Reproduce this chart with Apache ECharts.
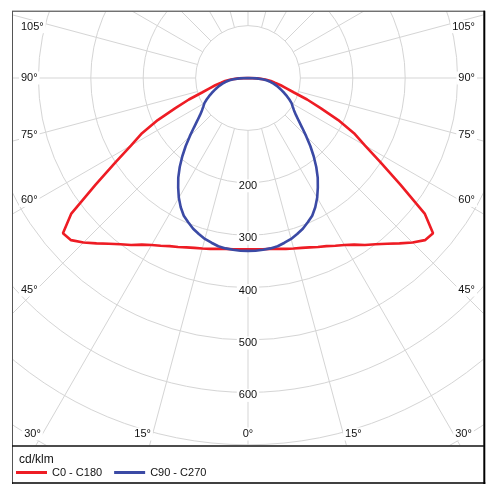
<!DOCTYPE html>
<html><head><meta charset="utf-8">
<script src="https://cdn.jsdelivr.net/npm/echarts@6/dist/echarts.min.js"></script>
<style>html,body{margin:0;padding:0;background:#fff}#c{width:500px;height:492px}</style>
</head><body><div id="c"></div>
<script>
// ---- data ----
const gammaAngles = [0,2.5,5,7.5,10,12.5,15,17.5,20,22.5,25,27.5,30,32.5,35,37.5,40,42.5,45,47.5,50,52.5,55,57.5,60,62.5,65,67.5,70,72.5,75,77.5,80,82.5,85,87.5,90];
const c0c180  = [327,327,328,329,331,334,337,340,344,349,354,361,368,377,389,400,413,428,444,458,461,425,355,300,258,228,190,150,120,92,76,64,52,44,33,18,0];
const c90c270 = [330,330,329,328,326,322,318,312,306,298,290,278,264,248,232,214,195,176,157,140,126,115,107,101,96,89,82,75,68,62,56,50,44,37,28,16,0];
const seriesNames = ['C0 - C180', 'C90 - C270'];
const radiusTickLabels = [200, 300, 400, 500, 600];
const sideAngleLabels = [105, 90, 75, 60, 45];
const bottomAngleLabels = [-30, -15, 0, 15, 30];
const unitLabel = 'cd/klm';

// ---- layout ----
const CX = 248, CY = 78, PX_PER_100 = 52.4, RMAX = 900;
const ROUT = PX_PER_100 * RMAX / 100;
const BOX = {x1: 13, y1: 11.7, x2: 483.3, y2: 445.3};
const FONT = '"Liberation Sans", Arial, sans-serif';
const GRID = '#d5d5d5';

function loop(vals) {
  const pts = [];
  for (let i = gammaAngles.length - 1; i >= 0; i--) pts.push([vals[i], -gammaAngles[i]]);
  for (let i = 1; i < gammaAngles.length; i++) pts.push([vals[i], gammaAngles[i]]);
  return pts;
}

const chart = echarts.init(document.getElementById('c'), null, {renderer: 'canvas'});
const hidden = {axisLine: {show: false}, axisTick: {show: false}, axisLabel: {show: false}};
chart.setOption({
  animation: false,
  backgroundColor: '#fff',
  title: {text: unitLabel, left: 19, top: 454, padding: 0, z: 20,
    textStyle: {fontSize: 12, fontWeight: 'normal', color: '#111', fontFamily: FONT}},
  legend: {left: 11, top: 462, icon: 'rect', itemWidth: 31, itemHeight: 3, itemGap: 12, z: 20,
    data: seriesNames, textStyle: {fontSize: 11, color: '#111', fontFamily: FONT}},
  polar: [
    {center: [CX, CY], radius: [PX_PER_100, ROUT]},
    {center: [CX, CY], radius: [0, ROUT]}
  ],
  angleAxis: [
    Object.assign({polarIndex: 0, type: 'value', min: 0, max: 360, interval: 15, startAngle: 270,
      splitLine: {show: true, lineStyle: {color: GRID, width: 1}}}, hidden),
    Object.assign({polarIndex: 1, type: 'value', min: -180, max: 180, startAngle: 90, clockwise: false,
      splitLine: {show: false}}, hidden)
  ],
  radiusAxis: [
    Object.assign({polarIndex: 0, type: 'value', min: 100, max: RMAX, interval: 100,
      splitLine: {show: true, lineStyle: {color: GRID, width: 1}}}, hidden),
    Object.assign({polarIndex: 1, type: 'value', min: 0, max: RMAX, splitLine: {show: false}}, hidden)
  ],
  series: [
    {type: 'line', name: seriesNames[0], coordinateSystem: 'polar', polarIndex: 1, data: loop(c0c180),
      symbol: 'none', z: 3, color: '#ee1c24', lineStyle: {color: '#ee1c24', width: 2.6}},
    {type: 'line', name: seriesNames[1], coordinateSystem: 'polar', polarIndex: 1, data: loop(c90c270),
      symbol: 'none', z: 4, color: '#3b4aa5', lineStyle: {color: '#3b4aa5', width: 2.6}}
  ]
});

function px(r, a) { return chart.convertToPixel({seriesIndex: 0}, [r, a]); }
function txt(text, x, y, align) {
  return {type: 'text', z: 6, silent: true, style: {text: text, x: x, y: y,
    align: align, verticalAlign: 'middle', textAlign: align, textVerticalAlign: 'middle',
    fill: '#111', font: '11px ' + FONT, backgroundColor: '#fff', padding: [1, 2]}};
}
const c = px(0, 0);
const els = [];
// radius labels just below their circles
radiusTickLabels.forEach(v => { const p = px(v, 0); els.push(txt(String(v), p[0], p[1] + 3, 'center')); });
// side angle labels where the spoke crosses a vertical reference (kept inside the box)
sideAngleLabels.forEach(a => {
  [1, -1].forEach(s => {
    const p = px(100, s * a);
    const xr = s > 0 ? 460 : 36;
    let y = c[1] + (p[1] - c[1]) * (xr - c[0]) / (p[0] - c[0]);
    y = Math.max(y, BOX.y1 + 15);
    els.push(txt(a + '°', s > 0 ? 477 : 19, y, s > 0 ? 'right' : 'left'));
  });
});
// bottom angle labels
const yB = 434;
bottomAngleLabels.forEach(a => {
  const p = px(100, a);
  let x = c[0] + (p[0] - c[0]) * (yB - c[1]) / (p[1] - c[1]);
  x += Math.sign(a) * 10;
  els.push(txt(Math.abs(a) + '°', x, yB, 'center'));
});
// white mask outside the plot box
const W = 500, H = 492;
[[0, 0, W, BOX.y1], [0, 0, BOX.x1, H], [BOX.x2, 0, W - BOX.x2, H], [0, BOX.y2, W, H - BOX.y2]].forEach(r => {
  els.push({type: 'rect', z: 10, silent: true, shape: {x: r[0], y: r[1], width: r[2], height: r[3]}, style: {fill: '#fff'}});
});
function ln(x1, y1, x2, y2, col, w) {
  return {type: 'line', z: 11, silent: true, shape: {x1: x1, y1: y1, x2: x2, y2: y2}, style: {stroke: col, lineWidth: w}};
}
els.push(ln(12, 11.2, 485, 11.2, '#333', 1));
els.push(ln(12.5, 11, 12.5, 484, '#555', 1));
els.push(ln(484.3, 10.7, 484.3, 484, '#000', 2));
els.push(ln(12, 483, 485.3, 483, '#000', 1.5));
els.push(ln(12, 446, 484, 446, '#111', 1.3));
chart.setOption({graphic: {elements: els}});
</script>
</body></html>
